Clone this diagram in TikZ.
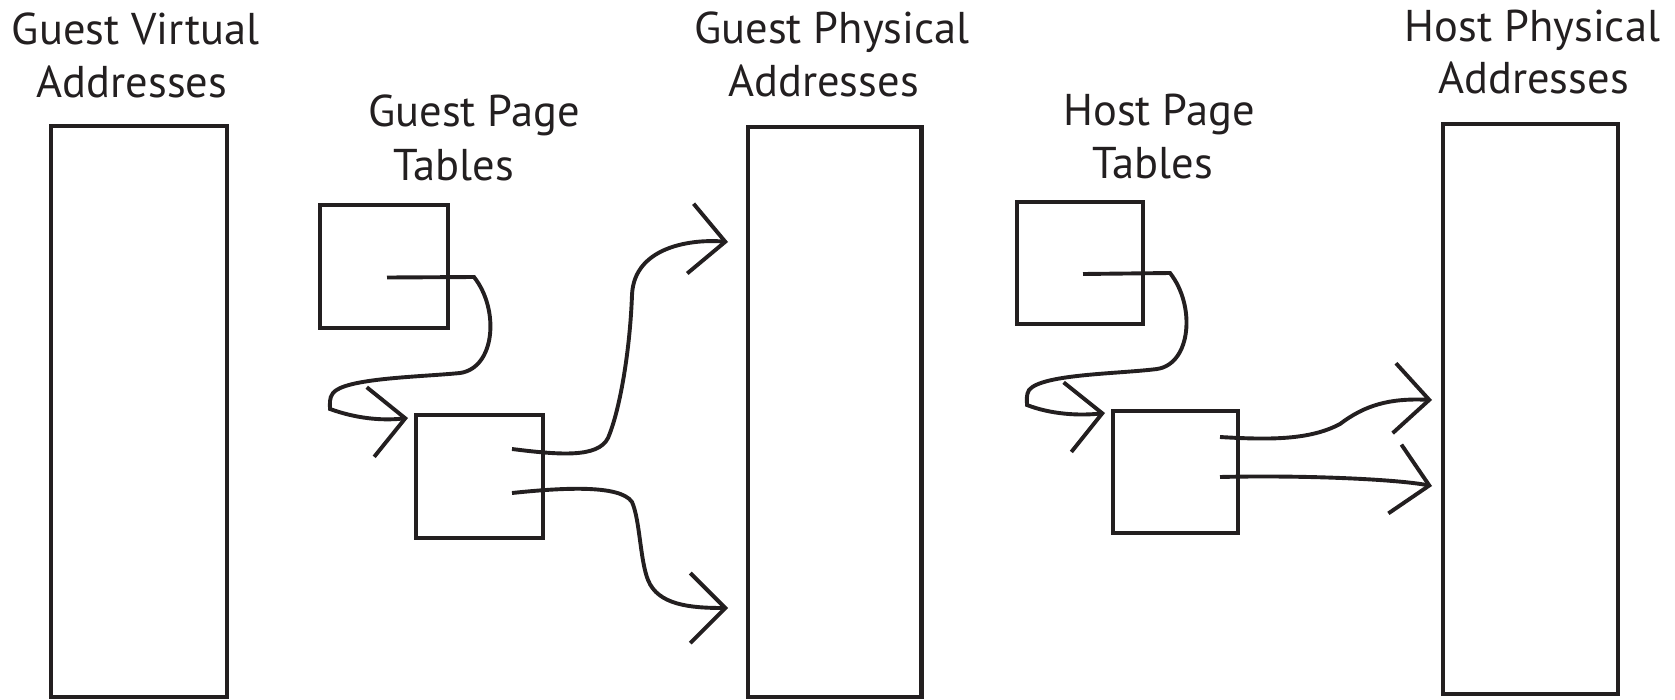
\documentclass[tikz,border=0pt]{standalone}
\usepackage{fontspec}
\setmainfont{PT Sans}
\usetikzlibrary{arrows.meta}
\definecolor{ink}{HTML}{231F20}
\begin{document}
\begin{tikzpicture}[x=1pt,y=-1pt,
  bigbox/.style={draw=ink, rectangle, line width=4.3pt, inner sep=0pt, outer sep=0pt},
  ptbox/.style={draw=ink, rectangle, line width=4pt, inner sep=0pt, outer sep=0pt},
  lbl/.style={anchor=base, inner sep=0pt, outer sep=0pt, text=ink, font=\fontsize{44.5}{52}\selectfont},
  link/.style={draw=ink, line width=3.9pt,
    -{Straight Barb[length=35pt,width=70pt,line width=3.9pt]}}]
\useasboundingbox (0,0) rectangle (1675,699);

% address spaces
\node[bigbox, minimum width=176pt, minimum height=571pt] (gva) at (139,411.5) {};
\node[bigbox, minimum width=173.5pt, minimum height=570pt] (gpa) at (834.7,412) {};
\node[bigbox, minimum width=175pt, minimum height=570pt] (hpa) at (1530.5,409) {};

% page tables
\node[ptbox, minimum width=128pt, minimum height=123pt] (A) at (384,266.5) {};
\node[ptbox, minimum width=127pt, minimum height=123pt] (B) at (479.5,476.5) {};
\node[ptbox, minimum width=126pt, minimum height=122pt] (C) at (1080,263) {};
\node[ptbox, minimum width=125pt, minimum height=122pt] (D) at (1175.5,472) {};

% labels
\node[lbl] (gvl1) at (135.5,44) {Guest Virtual};
\node[lbl] (gvl2) at (132,97) {Addresses};
\node[lbl] (gtl1) at (474,126.7) {Guest Page};
\node[lbl] (gtl2) at (454,180) {Tables};
\node[lbl] (gpl1) at (832,43.5) {Guest Physical};
\node[lbl] (gpl2) at (823.5,96.7) {Addresses};
\node[lbl] (htl1) at (1159,125) {Host Page};
\node[lbl] (htl2) at (1152.5,178) {Tables};
\node[lbl] (hpl1) at (1532.5,41.7) {Host Physical};
\node[lbl] (hpl2) at (1533.5,93) {Addresses};

% connector ends
\coordinate (a1) at ([shift={(3,11)}]A.center);
\coordinate (b1) at ([shift={(32.5,-27.5)}]B.center);
\coordinate (b2) at ([shift={(32.5,16.5)}]B.center);
\coordinate (c1) at ([shift={(3,11)}]C.center);
\coordinate (d1) at ([shift={(44.5,-35)}]D.center);
\coordinate (d2) at ([shift={(44.5,5)}]D.center);
\coordinate (ta) at (408,418);
\coordinate (tb1) at (728,242);
\coordinate (tb2) at (728,608);
\coordinate (tc) at (1105,413);
\coordinate (td1) at (1432,400);
\coordinate (td2) at (1432,486);

% guest page table walk
\draw[link] (a1) -- (474,277)
  .. controls (500,310) and (495,368) .. (460,373)
  .. controls (420,377) and (345,378) .. (333,393)
  .. controls (329,398) and (330,404) .. (330,409)
  .. controls (355,418) and (380,421) .. (ta);
\draw[link] (b1) .. controls (560,455) and (598,458) .. (608,438)
  .. controls (620,410) and (630,350) .. (632,295)
  .. controls (634,245) and (695,239) .. (tb1);
\draw[link] (b2) .. controls (560,488) and (620,484) .. (632,502)
  .. controls (640,520) and (640,560) .. (648,580)
  .. controls (658,605) and (690,608) .. (tb2);

% host page table walk
\draw[link] (c1) -- (1170,273)
  .. controls (1196,306) and (1191,364) .. (1157,369)
  .. controls (1117,374) and (1042,374) .. (1029,390)
  .. controls (1026,395) and (1027,400) .. (1027,405)
  .. controls (1050,414) and (1078,416) .. (tc);
\draw[link] (d1) .. controls (1270,440) and (1310,440) .. (1340,424)
  .. controls (1365,405) and (1390,398) .. (td1);
\draw[link] (d2) .. controls (1300,475) and (1395,479) .. (td2);
\end{tikzpicture}
\end{document}
